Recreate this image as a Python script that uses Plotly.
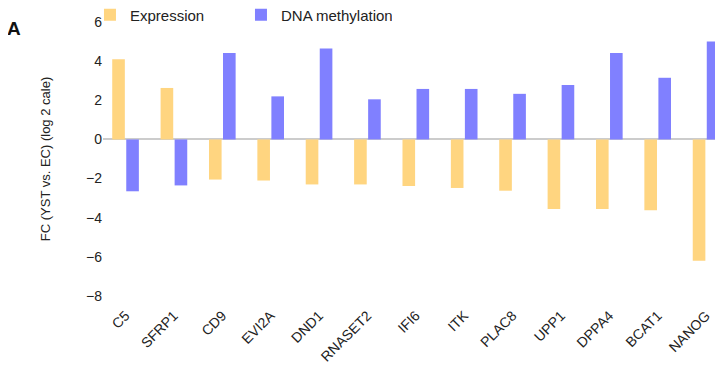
import plotly.graph_objects as go

genes = ["C5", "SFRP1", "CD9", "EVI2A", "DND1", "RNASET2", "IFI6", "ITK",
         "PLAC8", "UPP1", "DPPA4", "BCAT1", "NANOG"]
expression = [4.1, 2.63, -2.05, -2.1, -2.3, -2.3, -2.38, -2.48, -2.62, -3.55, -3.55, -3.62, -6.2]
methylation = [-2.65, -2.35, 4.42, 2.2, 4.64, 2.05, 2.58, 2.58, 2.33, 2.78, 4.42, 3.15, 5.0]
y_ticks = [6, 4, 2, 0, -2, -4, -6, -8]

EXP_COLOR = "#FFD580"
MET_COLOR = "#8080FF"
FONT = "Liberation Sans, Arial, sans-serif"

fig = go.Figure()
fig.add_trace(go.Bar(x=genes, y=expression, name="Expression",
                     marker=dict(color=EXP_COLOR, line=dict(width=0))))
fig.add_trace(go.Bar(x=genes, y=methylation, name="DNA methylation",
                     marker=dict(color=MET_COLOR, line=dict(width=0))))

# the page body adds an 8px offset, so margins are shifted to compensate
fig.update_layout(
    width=723, height=370,
    margin=dict(l=95, r=8, t=14, b=82, pad=0, autoexpand=False),
    paper_bgcolor="white", plot_bgcolor="white",
    font=dict(family=FONT, size=13, color="#222222"),
    barmode="group", bargap=0.42, bargroupgap=0.1,
    showlegend=True,
    legend=dict(orientation="h", x=-0.021, y=1.0255, xanchor="left", yanchor="middle",
                font=dict(family=FONT, size=15, color="#222222"),
                entrywidth=106, entrywidthmode="pixels",
                bgcolor="rgba(0,0,0,0)", itemclick=False),
    xaxis=dict(range=[-0.466, 12.35], tickangle=-45, showgrid=False, showline=False,
               zeroline=False, ticks="outside", ticklen=5, tickcolor="rgba(0,0,0,0)",
               tickfont=dict(size=14, color="#222222")),
    yaxis=dict(range=[-8, 6], tickvals=y_ticks,
               ticktext=[str(v).replace("-", "\u2212") for v in y_ticks],
               showgrid=False, showline=False, ticks="",
               zeroline=True, zerolinecolor="#cccccc", zerolinewidth=1.5,
               tickfont=dict(size=14, color="#222222"),
               title=dict(text="FC (YST vs. EC) (log 2 cale)", standoff=32,
                          font=dict(size=13, color="#222222"))),
    annotations=[dict(text="<b>A</b>", xref="paper", yref="paper", x=-0.144, y=0.976,
                      xanchor="center", yanchor="middle", showarrow=False,
                      font=dict(family=FONT, size=19, color="#111111"))],
)

fig.write_html("out.html")
